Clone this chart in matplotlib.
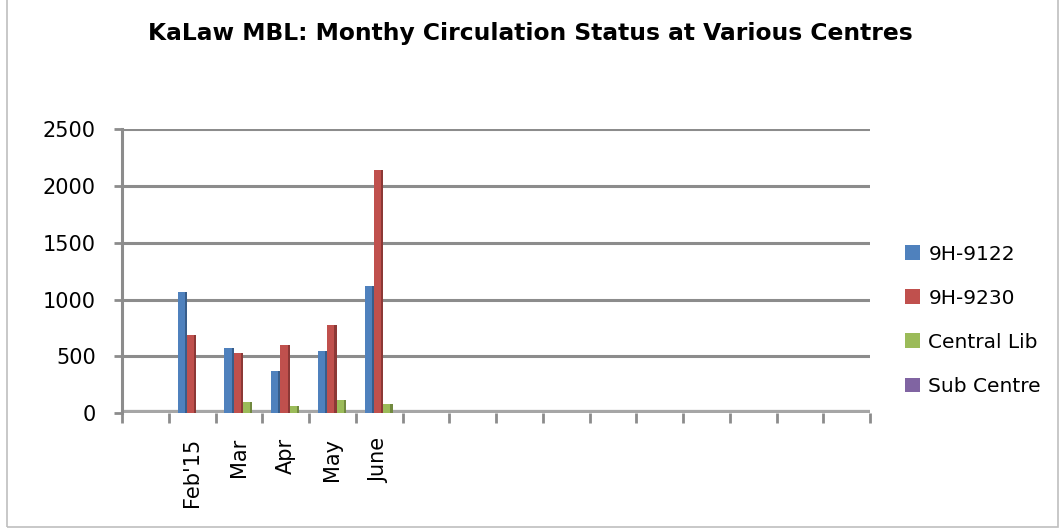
import numpy as np
import matplotlib.pyplot as plt
from matplotlib.patches import Rectangle

# categories (16 slots on the axis, only five have labels)
categories = ["", "Feb'15", "Mar", "Apr", "May", "June",
              "", "", "", "", "", "", "", "", "", ""]
series_names = ["9H-9122", "9H-9230", "Central Lib", "Sub Centre"]
s_9122 = [0, 1070, 575, 370, 550, 1120]
s_9230 = [0, 690, 530, 600, 780, 2140]
s_central = [0, 0, 95, 60, 120, 80]
s_sub = [0, 0, 0, 0, 0, 0]
y_ticks = [0, 500, 1000, 1500, 2000, 2500]

colors = ["#4F81BD", "#C0504D", "#9BBB59", "#8064A2"]
side_colors = ["#385D8A", "#8C3836", "#71893F", "#5C4776"]

fig = plt.figure(figsize=(10.61, 5.29), dpi=100)
ax = fig.add_axes([0.115, 0.219, 0.705, 0.537])

n = len(categories)
ax.set_xlim(0, n)
ax.set_ylim(0, 2500)

# gridlines / walls drawn like the excel 3D chart
for v in y_ticks:
    ax.axhline(v, color="#8C8C8C", lw=2.2, zorder=1)
ax.axhline(0, color="#A6A6A6", lw=4.5, zorder=1)

data = [s_9122, s_9230, s_central, s_sub]
w = 0.2
for k, (vals, c, sc) in enumerate(zip(data, colors, side_colors)):
    x = np.arange(len(vals)) + 0.29 + k * w
    ax.bar(x, vals, width=w, color=c, zorder=3, label=series_names[k])
    # darker side face
    ax.bar(x + w * 0.38, vals, width=w * 0.24, color=sc, zorder=3)

ax.set_yticks(y_ticks)
ax.set_xticks(np.arange(n + 1))
ax.set_xticklabels([])
ax.set_xticks(np.arange(n) + 0.5, minor=True)
ax.set_xticklabels(categories, minor=True, rotation=90, fontsize=15)
ax.tick_params(axis="x", which="minor", length=0, pad=18)
ax.tick_params(axis="x", which="major", length=7, width=2, color="#8C8C8C")
ax.tick_params(axis="y", length=6, width=2, color="#8C8C8C", labelsize=15, pad=13)

for s in ["top", "right", "bottom"]:
    ax.spines[s].set_visible(False)
ax.spines["left"].set_color("#8C8C8C")
ax.spines["left"].set_linewidth(2.2)

fig.suptitle("KaLaw MBL: Monthy Circulation Status at Various Centres",
             fontsize=16.8, fontweight="bold", x=0.5, y=0.958)

handles, labels = ax.get_legend_handles_labels()
fig.legend(handles, labels, loc="upper left", bbox_to_anchor=(0.836, 0.572),
           frameon=False, fontsize=14.5, handlelength=0.75, handleheight=0.75,
           handletextpad=0.4, labelspacing=1.25)

# outer chart border
fig.patches.append(Rectangle((0.007, 0.004), 0.99, 1.1, transform=fig.transFigure,
                             fill=False, edgecolor="#BFBFBF", lw=1.2))

fig.savefig("out.png", dpi=100)
